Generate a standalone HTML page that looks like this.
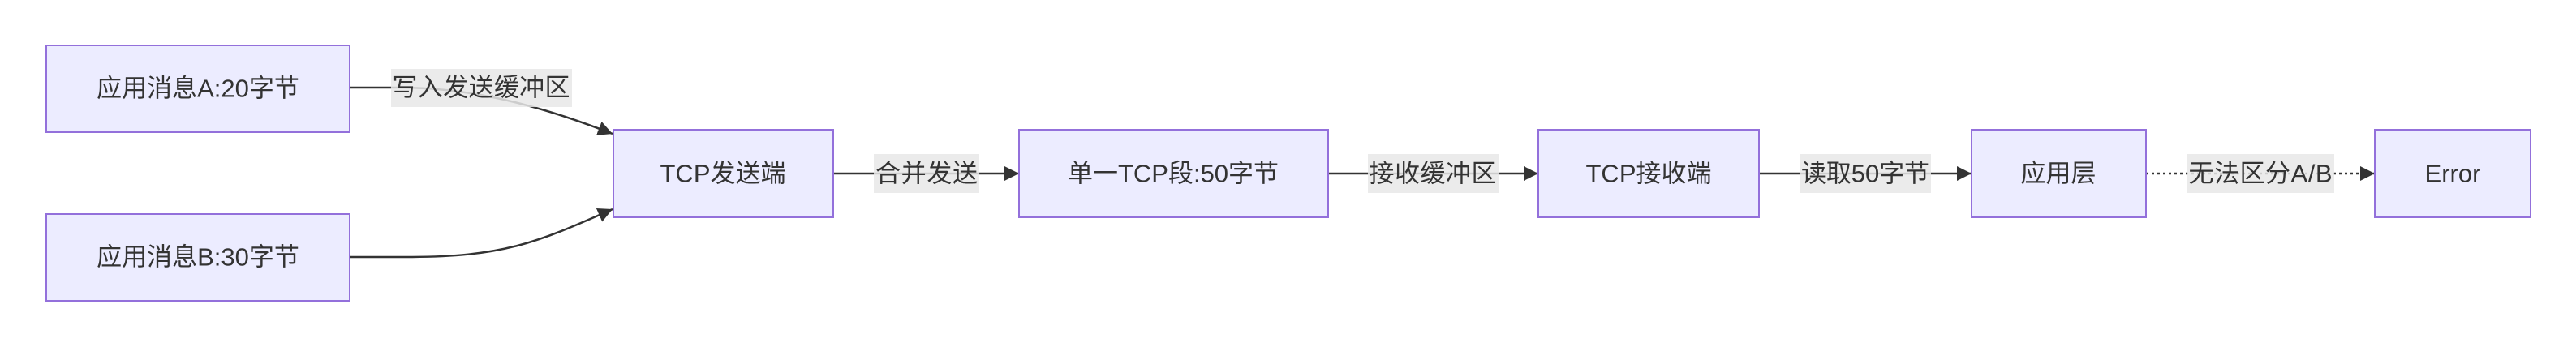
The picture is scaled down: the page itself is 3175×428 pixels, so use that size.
<!DOCTYPE html>
<html><head><meta charset="utf-8"><style>
html,body{margin:0;padding:0;background:#fff;}
svg{display:block;}
text{font-family:"Liberation Sans","Noto Sans CJK SC",sans-serif;font-size:31px;fill:#333;}
</style></head><body>
<svg width="3175" height="428" viewBox="0 0 3175 428" xmlns="http://www.w3.org/2000/svg">
<defs>
<marker id="a" viewBox="0 0 10 10" refX="10" refY="5" markerWidth="18" markerHeight="18" orient="auto" markerUnits="userSpaceOnUse"><path d="M0,0 L10,5 L0,10 z" fill="#333"/></marker>
</defs>
<g fill="none" stroke="#333" stroke-width="2.5">
<path d="M431,108 L490,108 C560,108 640,120 755,165" marker-end="url(#a)"/>
<path d="M431,317 L500,317 C620,317 660,300 755,258" marker-end="url(#a)"/>
<path d="M1027,214 L1256,214" marker-end="url(#a)"/>
<path d="M1637,214 L1896,214" marker-end="url(#a)"/>
<path d="M2168,214 L2430,214" marker-end="url(#a)"/>
<path d="M2645,214 L2927,214" stroke-dasharray="3,4" marker-end="url(#a)"/>
</g>
<g fill="#ECECFF" stroke="#9370DB" stroke-width="2">
<rect x="57" y="56" width="374" height="107"/>
<rect x="57" y="264" width="374" height="107"/>
<rect x="756" y="160" width="271" height="108"/>
<rect x="1256" y="160" width="381" height="108"/>
<rect x="1896" y="160" width="272" height="108"/>
<rect x="2430" y="160" width="215" height="108"/>
<rect x="2927" y="160" width="192" height="108"/>
</g>
<g fill="#e8e8e8" opacity="0.85">
<rect x="482" y="85" width="223" height="47"/>
<rect x="1077" y="190" width="130" height="48"/>
<rect x="1686" y="190" width="161" height="48"/>
<rect x="2218" y="190" width="162" height="48"/>
<rect x="2696" y="190" width="181" height="48"/>
</g>
<g text-anchor="middle" dominant-baseline="central">
<text x="244" y="109">应用消息A:20字节</text>
<text x="244" y="317">应用消息B:30字节</text>
<text x="891" y="214">TCP发送端</text>
<text x="1446" y="214">单一TCP段:50字节</text>
<text x="2032" y="214">TCP接收端</text>
<text x="2537" y="214">应用层</text>
<text x="3023" y="214">Error</text>
<text x="593" y="108" textLength="219">写入发送缓冲区</text>
<text x="1142" y="214" textLength="126">合并发送</text>
<text x="1766" y="214" textLength="157">接收缓冲区</text>
<text x="2299" y="214" textLength="158">读取50字节</text>
<text x="2786" y="214" textLength="177">无法区分A/B</text>
</g>
</svg>
</body></html>
